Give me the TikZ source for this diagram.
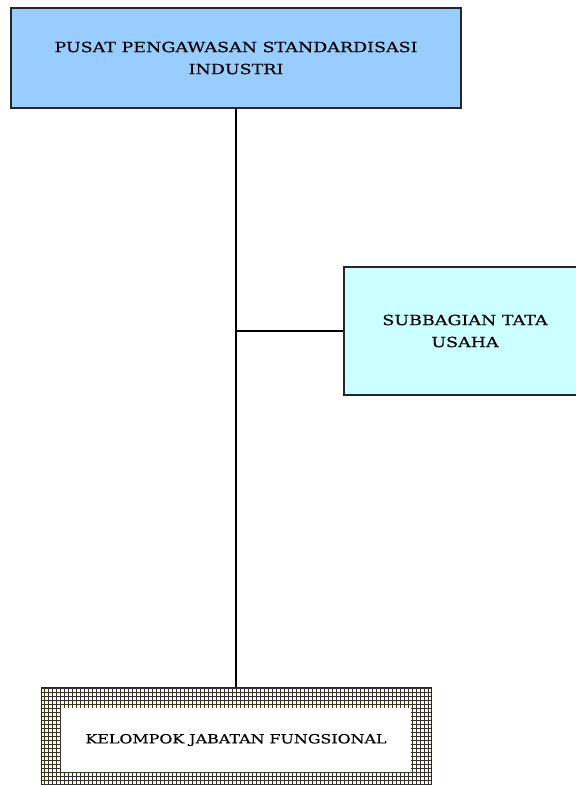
\documentclass[tikz,border=0pt]{standalone}
\usepackage{fontspec}
\setmainfont{DejaVu Serif}[FakeStretch=1.25, FakeBold=0.3]
\usepackage{tikz}
\usetikzlibrary{positioning, calc}

\definecolor{pusatblue}{HTML}{99CCFF}
\definecolor{subcyan}{HTML}{CCFFFF}
\definecolor{gridcream}{HTML}{FFFFCC}

\tikzset{
    unitbox/.style={draw=black!85, line width=1.3pt, align=center, font=\fontsize{14}{22}\selectfont, inner sep=0pt},
    griddedbox/.style={draw=black!85, line width=1pt, fill=gridcream,
        path picture={\draw[black!80, line width=0.6pt, step=4pt]
            (path picture bounding box.south west) grid (path picture bounding box.north east);}},
}

\begin{document}
\begin{tikzpicture}[x=1pt, y=-1pt]
    \clip (0,0) rectangle (576,785);
    \fill[white] (0,0) rectangle (576,785);

    \node[unitbox, fill=pusatblue, minimum width=450pt, minimum height=100pt] (pusat) at (236,58)
        {PUSAT PENGAWASAN STANDARDISASI\\INDUSTRI};
    \node[unitbox, fill=subcyan, minimum width=242pt, minimum height=128pt] (subbag) at (465,331)
        {SUBBAGIAN TATA\\USAHA};
    \node[griddedbox, minimum width=390pt, minimum height=98pt] (kjf) at (236,736) {};
    \node[fill=white, minimum width=350pt, minimum height=64pt, inner sep=0pt,
        font=\fontsize{12.7}{14}\selectfont] (kjfin) at (236,740) {KELOMPOK JABATAN FUNGSIONAL};

    \coordinate (cabang) at (pusat.south |- subbag.west);
    \draw[line width=1.8pt] (pusat.south) -- (kjf.north);
    \draw[line width=1.8pt] (cabang) -- (subbag.west);
\end{tikzpicture}
\end{document}
